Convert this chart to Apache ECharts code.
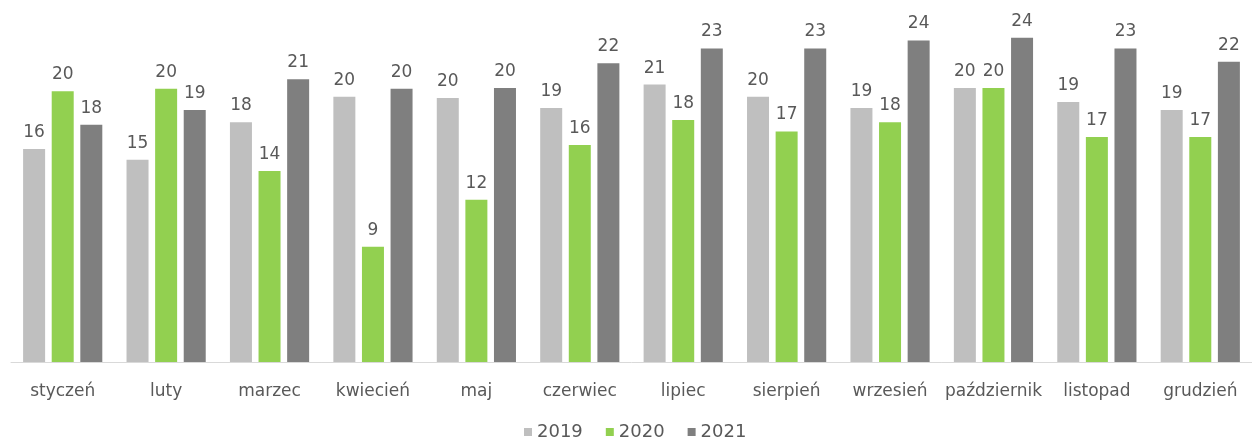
<!DOCTYPE html>
<html>
<head>
<meta charset="utf-8">
<script src="https://cdn.jsdelivr.net/npm/echarts@6/dist/echarts.min.js"></script>
<style>
html,body{margin:0;padding:0;background:#fff;}
#chart{width:1252px;height:441px;}
</style>
</head>
<body>
<div id="chart"></div>
<script>
const categories = ['styczeń','luty','marzec','kwiecień','maj','czerwiec','lipiec','sierpień','wrzesień','październik','listopad','grudzień'];
const seriesNames = ['2019','2020','2021'];
const values2019 = [15.9, 15.1, 17.9, 19.8, 19.7, 18.95, 20.7, 19.8, 18.95, 20.45, 19.4, 18.8];
const values2020 = [20.2, 20.4, 14.25, 8.6, 12.1, 16.2, 18.06, 17.2, 17.9, 20.45, 16.8, 16.8];
const values2021 = [17.7, 18.8, 21.1, 20.4, 20.45, 22.3, 23.4, 23.4, 24.0, 24.2, 23.4, 22.4];
const colors = ['#BFBFBF', '#92D050', '#7F7F7F'];

const chart = echarts.init(document.getElementById('chart'));
const font = 'DejaVu Sans';
function mk(name, data, color) {
  return {
    name: name,
    type: 'bar',
    data: data,
    barWidth: 22,
    barGap: '30%',
    itemStyle: { color: color },
    label: {
      show: true,
      position: 'top',
      distance: 8,
      fontFamily: font,
      fontSize: 17,
      color: '#595959',
      formatter: p => Math.round(p.value)
    }
  };
}
chart.setOption({
  animation: false,
  grid: { left: 11, right: -5, top: 27, bottom: 79, containLabel: false },
  legend: {
    top: 423,
    left: 524,
    icon: 'rect',
    itemWidth: 8,
    itemHeight: 8,
    itemGap: 23,
    padding: 0,
    textStyle: { fontFamily: font, fontSize: 18, color: '#595959' },
    data: seriesNames
  },
  xAxis: {
    type: 'category',
    data: categories,
    axisLine: { lineStyle: { color: '#D9D9D9', width: 1 } },
    axisTick: { show: false },
    axisLabel: { fontFamily: font, fontSize: 17, color: '#595959', margin: 21, interval: 0 }
  },
  yAxis: {
    type: 'value',
    min: 0,
    max: 25,
    show: false,
    splitLine: { show: false }
  },
  series: [
    mk(seriesNames[0], values2019, colors[0]),
    mk(seriesNames[1], values2020, colors[1]),
    mk(seriesNames[2], values2021, colors[2])
  ]
});
</script>
</body>
</html>
